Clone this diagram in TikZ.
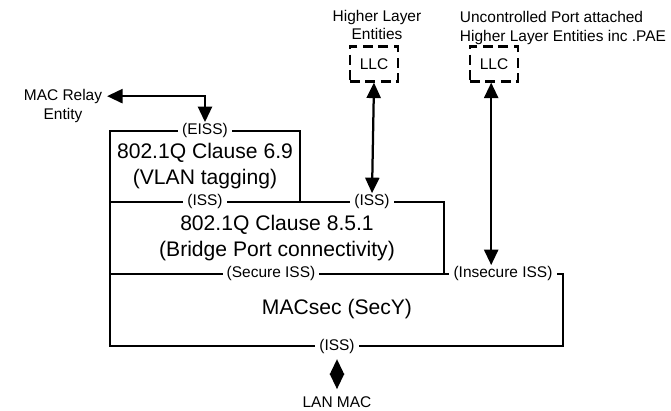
\documentclass[tikz,border=0pt]{standalone}
\usepackage{fontspec}
\setmainfont{Liberation Sans}
\usetikzlibrary{arrows.meta,positioning}
\tikzstyle{arrow} = [line width=1.6pt, <->, >={Triangle[width=10pt,length=11pt]}]
\tikzstyle{layer} = [line width=1.6pt, line join=miter]
\tikzstyle{sap} = [fill=white, inner xsep=3pt, inner ysep=1pt, font=\fontsize{11pt}{13pt}\selectfont]
\tikzstyle{llcbox} = [draw, line width=1.6pt, dash pattern=on 7pt off 4pt, minimum width=1.2cm, minimum height=0.875cm, font=\fontsize{11pt}{13pt}\selectfont]

\begin{document}
\begin{tikzpicture}[x=0.025cm, y=-0.025cm]
		\useasboundingbox (0,0) rectangle (671,411);
		\coordinate (eissTL) at (110,131);
		\coordinate (eissBR) at (300,202);
		\coordinate (bridgeBR) at (444,274);
		\coordinate (secyBR) at (563,346);
		% Layer boxes
		\draw[layer] (eissTL) rectangle (eissBR);
		\draw[layer] (eissTL |- eissBR) rectangle (bridgeBR);
		\draw[layer] (eissTL |- bridgeBR) rectangle (secyBR);
		% Box titles
		\begin{scope}[every node/.style={align=center, font=\fontsize{15pt}{18.5pt}\selectfont}]
		\node (vlan) at (205,166) {802.1Q Clause 6.9\\(VLAN tagging)};
		\node (bridge) at (277,238) {802.1Q Clause 8.5.1\\(Bridge Port connectivity)};
		\node (secy) at (337,309) {MACsec (SecY)};
		\end{scope}
		% Service access points
		\node[sap] (eiss) at (205,131) {(EISS)};
		\node[sap] (issa) at (205,202) {(ISS)};
		\node[sap] (issb) at (372,202) {(ISS)};
		\node[sap] (secure) at (271,274) {(Secure ISS)};
		\node[sap] (insecure) at (503,274) {(Insecure ISS)};
		\node[sap] (issc) at (337,346) {(ISS)};
		% Higher layers
		\begin{scope}[every node/.style={align=center, font=\fontsize{11pt}{13pt}\selectfont}]
		\node (relay) at (63,106) {MAC Relay\\Entity};
		\node (hle) at (377,25) {Higher Layer\\Entities};
		\node[align=left, anchor=west] (upae) at (455,28) {Uncontrolled Port attached\\[1pt]Higher Layer Entities inc .PAE};
		\node[inner sep=1pt] (lanmac) at (337,402) {LAN MAC};
		\end{scope}
		\node[llcbox] (llca) at (374,64) {LLC};
		\node[llcbox] (llcb) at (494,64) {LLC};
		% Connections
		\draw[arrow] ([yshift=7pt]relay.east) -| (eiss.north);
		\draw[arrow] (llca.south) -- (issb.north);
		\draw[arrow] ([xshift=-2pt]llcb.south) -- ([xshift=-2pt]llcb.south |- insecure.north);
		\draw[arrow, shorten <=3pt, shorten >=4pt] (issc.south) -- (lanmac.north);
\end{tikzpicture}
\end{document}
